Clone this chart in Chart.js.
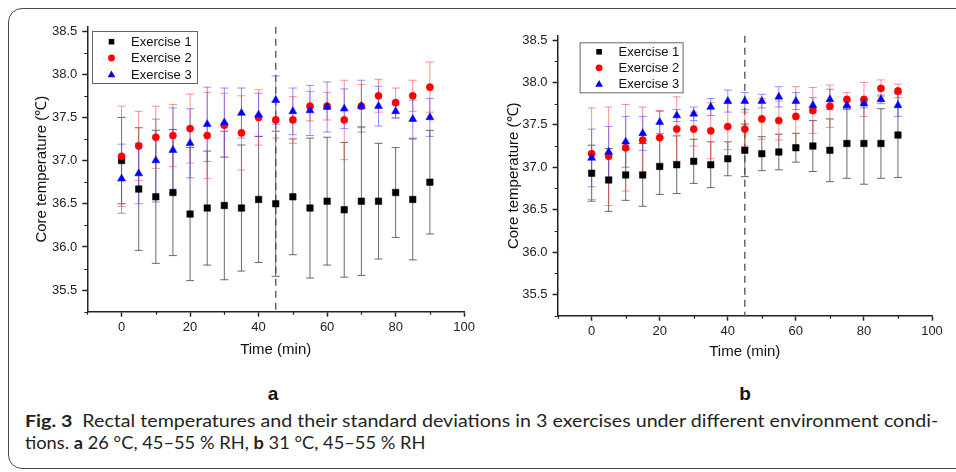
<!DOCTYPE html>
<html>
<head>
<meta charset="utf-8">
<script src="https://cdn.jsdelivr.net/npm/chart.js@4.4.0/dist/chart.umd.min.js"></script>
<style>
  html, body { margin: 0; padding: 0; background: #fff; }
  #page { position: relative; width: 956px; height: 472px; overflow: hidden; }
  #frame { position: absolute; left: 8px; top: 8px; width: 1000px; height: 459px;
           border: 1.5px solid #4a4a4a; border-radius: 14px; }
  canvas { position: absolute; top: 0; }
  #chartA { left: 0; }
  #chartB { left: 478px; }
  .panel { position: absolute; top: 383px; width: 40px; text-align: center;
           font: bold 19px 'Liberation Sans', Arial, sans-serif; color: #111; }
  #caption { position: absolute; left: 25px; top: 410px; font: 17px Lato, sans-serif;
             line-height: 22px; color: #231f20; white-space: nowrap; }
  #caption div { transform-origin: 0 0; }
  #caption span.line { display: inline-block; }
</style>
</head>
<body>
<div id="page">
  <div id="frame"></div>
  <canvas id="chartA" width="478" height="372"></canvas>
  <canvas id="chartB" width="478" height="372"></canvas>
  <div class="panel" style="left:253px">a</div>
  <div class="panel" style="left:725px">b</div>
  <div id="caption">
    <div><span class="line" id="cap1"><b>Fig. 3</b>&nbsp; Rectal temperatures and their standard deviations in 3 exercises under different environment condi-</span></div>
    <div><span class="line" id="cap2">tions. <b>a</b> 26 °C, 45–55 % RH, <b>b</b> 31 °C, 45–55 % RH</span></div>
  </div>
</div>
<script>
// time points (min)
var times = [0, 5, 10, 15, 20, 25, 30, 35, 40, 45, 50, 55, 60, 65, 70, 75, 80, 85, 90];

// panel a: 26 °C
var aEx1Mean = [37.00, 36.67, 36.58, 36.63, 36.38, 36.45, 36.48, 36.45, 36.55, 36.50, 36.58, 36.45, 36.53, 36.43, 36.53, 36.53, 36.63, 36.55, 36.75];
var aEx1Sd   = [0.50, 0.71, 0.77, 0.73, 0.77, 0.66, 0.86, 0.73, 0.73, 0.84, 0.67, 0.81, 0.74, 0.78, 0.86, 0.67, 0.52, 0.70, 0.60];
var aEx2Mean = [37.05, 37.17, 37.27, 37.29, 37.37, 37.29, 37.41, 37.32, 37.50, 37.47, 37.47, 37.63, 37.63, 37.47, 37.63, 37.75, 37.67, 37.75, 37.85];
var aEx2Sd   = [0.58, 0.40, 0.36, 0.36, 0.40, 0.50, 0.37, 0.43, 0.32, 0.21, 0.27, 0.17, 0.16, 0.46, 0.25, 0.19, 0.17, 0.18, 0.29];
var aEx3Mean = [36.79, 36.85, 37.00, 37.12, 37.20, 37.42, 37.44, 37.55, 37.53, 37.70, 37.57, 37.58, 37.62, 37.60, 37.63, 37.63, 37.57, 37.48, 37.50];
var aEx3Sd   = [0.40, 0.35, 0.48, 0.49, 0.40, 0.43, 0.40, 0.29, 0.25, 0.28, 0.27, 0.29, 0.29, 0.23, 0.30, 0.23, 0.08, 0.22, 0.22];

// panel b: 31 °C
var bEx1Mean = [36.93, 36.85, 36.91, 36.91, 37.01, 37.03, 37.07, 37.03, 37.10, 37.20, 37.16, 37.18, 37.23, 37.25, 37.20, 37.28, 37.28, 37.28, 37.38];
var bEx1Sd   = [0.33, 0.37, 0.30, 0.37, 0.33, 0.34, 0.26, 0.27, 0.20, 0.31, 0.20, 0.21, 0.17, 0.30, 0.37, 0.41, 0.48, 0.41, 0.50];
var bEx2Mean = [37.16, 37.13, 37.23, 37.32, 37.35, 37.45, 37.45, 37.43, 37.48, 37.45, 37.57, 37.55, 37.60, 37.67, 37.72, 37.80, 37.80, 37.93, 37.90];
var bEx2Sd   = [0.54, 0.58, 0.51, 0.39, 0.32, 0.38, 0.20, 0.33, 0.27, 0.20, 0.24, 0.23, 0.35, 0.27, 0.25, 0.08, 0.20, 0.10, 0.08];
var bEx3Mean = [37.11, 37.18, 37.30, 37.40, 37.53, 37.61, 37.63, 37.71, 37.78, 37.78, 37.78, 37.83, 37.78, 37.73, 37.80, 37.73, 37.75, 37.80, 37.73];
var bEx3Sd   = [0.34, 0.30, 0.30, 0.20, 0.13, 0.07, 0.08, 0.10, 0.13, 0.10, 0.08, 0.12, 0.10, 0.09, 0.12, 0.05, 0.05, 0.05, 0.13];

var seriesNames = ['Exercise 1', 'Exercise 2', 'Exercise 3'];
var xMajorTicks = [0, 20, 40, 60, 80, 100];
var xMinorTicks = [-10, 10, 30, 50, 70, 90];
var yMajorTicks = [35.5, 36.0, 36.5, 37.0, 37.5, 38.0, 38.5];
var yMinorTicks = [35.25, 35.75, 36.25, 36.75, 37.25, 37.75, 38.25];
var dividerTime = 45;

Chart.defaults.font.family = "'Liberation Sans', Arial, sans-serif";
Chart.defaults.color = '#222';

var seriesStyles = [
    { pointStyle: 'rect', radius: 4.6, color: '#000000', err: 'rgba(70,70,70,0.8)', order: 3 },
    { pointStyle: 'circle', radius: 3.6, color: '#ff0000', err: 'rgba(255,70,70,0.6)', order: 2 },
    { pointStyle: 'triangle', radius: 4.6, color: '#0000ff', err: 'rgba(70,70,255,0.6)', order: 1 }
];

function drawMarker(ctx, style, x, y) {
    ctx.fillStyle = style.color;
    ctx.beginPath();
    if (style.pointStyle == 'rect') {
        ctx.rect(x - 2.8, y - 2.8, 5.6, 5.6);
    } else if (style.pointStyle == 'circle') {
        ctx.arc(x, y, 3.4, 0, Math.PI * 2);
    } else {
        ctx.moveTo(x, y - 4);
        ctx.lineTo(x + 3.8, y + 2.8);
        ctx.lineTo(x - 3.8, y + 2.8);
        ctx.closePath();
    }
    ctx.fill();
}

var decorPlugin = {
    id: 'decor',
    beforeDatasetsDraw: function (chart) {
        var ctx = chart.ctx, xs = chart.scales.x, ys = chart.scales.y, area = chart.chartArea;
        // dashed divider at 45 min
        ctx.save();
        ctx.strokeStyle = '#666';
        ctx.lineWidth = 1.5;
        ctx.setLineDash([7, 5]);
        var dx = xs.getPixelForValue(dividerTime);
        ctx.beginPath();
        ctx.moveTo(dx, area.top);
        ctx.lineTo(dx, area.bottom);
        ctx.stroke();
        ctx.restore();
        // error bars
        chart.data.datasets.forEach(function (ds, i) {
            var meta = chart.getDatasetMeta(i);
            ctx.save();
            ctx.strokeStyle = ds.errColor;
            ctx.lineWidth = 1;
            ds.data.forEach(function (p, j) {
                var x = meta.data[j].x;
                var top = ys.getPixelForValue(p.y + ds.sd[j]);
                var bot = ys.getPixelForValue(p.y - ds.sd[j]);
                ctx.beginPath();
                ctx.moveTo(x, top); ctx.lineTo(x, bot);
                ctx.moveTo(x - 4, top); ctx.lineTo(x + 4, top);
                ctx.moveTo(x - 4, bot); ctx.lineTo(x + 4, bot);
                ctx.stroke();
            });
            ctx.restore();
        });
    },
    afterDraw: function (chart, args, opts) {
        var ctx = chart.ctx, xs = chart.scales.x, ys = chart.scales.y, area = chart.chartArea;
        // minor ticks
        ctx.save();
        ctx.strokeStyle = '#222';
        ctx.lineWidth = 1.2;
        ctx.beginPath();
        yMinorTicks.forEach(function (v) {
            var y = Math.round(ys.getPixelForValue(v)) + 0.5;
            ctx.moveTo(area.left - 3, y); ctx.lineTo(area.left, y);
        });
        xMinorTicks.forEach(function (v) {
            var x = Math.round(xs.getPixelForValue(v)) + 0.5;
            ctx.moveTo(x, area.bottom); ctx.lineTo(x, area.bottom + 3);
        });
        ctx.stroke();
        ctx.restore();

        // legend box
        var lx = area.left + opts.dx, ly = area.top + opts.dy;
        ctx.save();
        ctx.fillStyle = '#fff';
        ctx.fillRect(lx, ly, opts.w, opts.h);
        ctx.strokeStyle = '#666';
        ctx.lineWidth = 1;
        ctx.strokeRect(lx + 0.5, ly + 0.5, opts.w, opts.h);
        ctx.font = "13px 'Liberation Sans', Arial, sans-serif";
        ctx.textBaseline = 'middle';
        seriesNames.forEach(function (name, i) {
            var ry = ly + opts.rows[i];
            drawMarker(ctx, seriesStyles[i], lx + 19.5, ry);
            ctx.fillStyle = '#111';
            ctx.fillText(name, lx + 39, ry + 0.5);
        });
        ctx.restore();
    }
};

function makeChart(id, means, sds, box) {
    var datasets = means.map(function (m, i) {
        var st = seriesStyles[i];
        return {
            label: seriesNames[i],
            data: times.map(function (t, j) { return { x: t, y: m[j] }; }),
            sd: sds[i],
            errColor: st.err,
            order: st.order,
            showLine: false,
            pointStyle: st.pointStyle,
            pointRadius: st.radius,
            backgroundColor: st.color,
            borderColor: st.color,
            borderWidth: 0.5
        };
    });
    return new Chart(document.getElementById(id), {
        type: 'scatter',
        data: { datasets: datasets },
        plugins: [decorPlugin],
        options: {
            responsive: false,
            animation: false,
            devicePixelRatio: 1,
            layout: { padding: { left: 0, top: box.top, right: box.right, bottom: 0 } },
            plugins: {
                legend: { display: false },
                tooltip: { enabled: false },
                decor: box.legend
            },
            scales: {
                x: {
                    type: 'linear', min: -10, max: 100,
                    afterBuildTicks: function (axis) { axis.ticks = xMajorTicks.map(function (v) { return { value: v }; }); },
                    afterFit: function (axis) { axis.height = 372 - box.bottom; },
                    border: { display: true, color: '#222', width: 1.5 },
                    grid: { display: true, drawOnChartArea: false, drawTicks: true, tickLength: 5, tickColor: '#222', tickWidth: 1.5 },
                    ticks: { autoSkip: false, maxRotation: 0, padding: 3, font: { size: 13 }, color: '#222' },
                    title: { display: true, text: 'Time (min)', font: { size: 15 }, color: '#111', padding: { top: 0, bottom: box.xTitlePad } }
                },
                y: {
                    type: 'linear', min: 35.25, max: 38.55,
                    afterBuildTicks: function (axis) { axis.ticks = yMajorTicks.map(function (v) { return { value: v }; }); },
                    afterFit: function (axis) { axis.width = box.left; },
                    border: { display: true, color: '#222', width: 1.5 },
                    grid: { display: true, drawOnChartArea: false, drawTicks: true, tickLength: 5, tickColor: '#222', tickWidth: 1.5 },
                    ticks: { autoSkip: false, padding: 5, font: { size: 13 }, color: '#222',
                             callback: function (v) { return Number(v).toFixed(1); } },
                    title: { display: true, text: 'Core temperature (℃)', font: { size: 15 }, color: '#111', padding: { top: box.yTitlePad, bottom: 0 } }
                }
            }
        }
    });
}

makeChart('chartA', [aEx1Mean, aEx2Mean, aEx3Mean], [aEx1Sd, aEx2Sd, aEx3Sd], {
    left: 87.3, top: 26.7, right: 8.7, bottom: 311.7, xTitlePad: 13, yTitlePad: 33,
    legend: { dx: 4.7, dy: 4.3, w: 105, h: 52, rows: [10.7, 27, 43.5] }
});
makeChart('chartB', [bEx1Mean, bEx2Mean, bEx3Mean], [bEx1Sd, bEx2Sd, bEx3Sd], {
    left: 79.6, top: 35.8, right: 24, bottom: 315.7, xTitlePad: 11, yTitlePad: 26.5,
    legend: { dx: 22, dy: 6.5, w: 103, h: 50, rows: [9.5, 25.5, 41.7] }
});

// squeeze caption lines to the widths of the original condensed face
var cap1 = document.getElementById('cap1');
var cap2 = document.getElementById('cap2');
cap1.parentNode.style.transform = 'scaleX(' + (913 / cap1.offsetWidth) + ')';
cap2.parentNode.style.transform = 'scaleX(' + (400 / cap2.offsetWidth) + ')';
</script>
</body>
</html>
